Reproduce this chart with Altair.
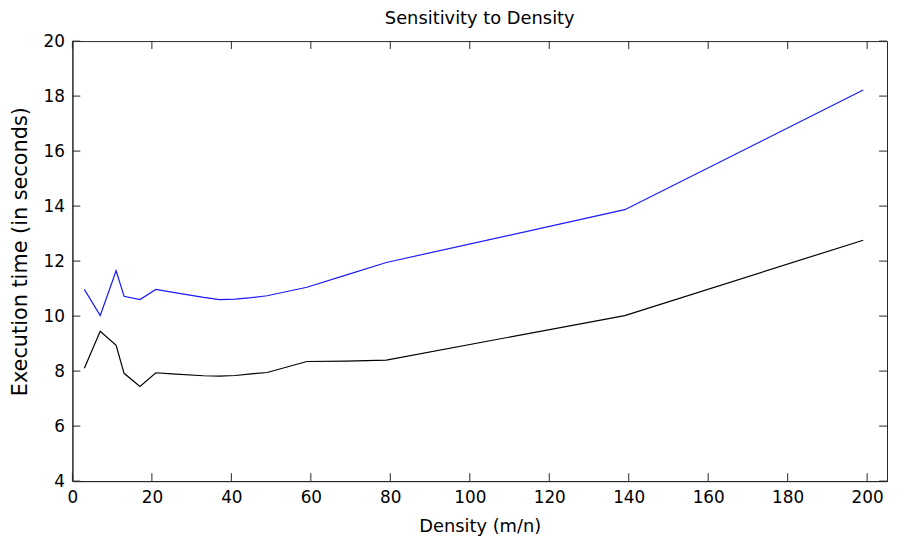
import altair as alt
import pandas as pd

# Data
density = [3, 7, 11, 13, 17, 21, 25, 33, 37, 41, 45, 49, 59, 69, 79, 139, 199]
blue_series = [10.97, 10.02, 11.65, 10.72, 10.60, 10.97, 10.87, 10.68, 10.60, 10.62,
               10.67, 10.74, 11.05, 11.50, 11.95, 13.87, 18.22]
black_series = [8.10, 9.45, 8.94, 7.92, 7.44, 7.94, 7.90, 7.83, 7.82, 7.84,
                7.90, 7.95, 8.35, 8.36, 8.40, 10.02, 12.76]
x_ticks = [0, 20, 40, 60, 80, 100, 120, 140, 160, 180, 200]
y_ticks = [4, 6, 8, 10, 12, 14, 16, 18, 20]

W, H = 822, 444
FONT = "DejaVu Sans"
AXC = "#262626"
TL = 8

rows = []
for d, b, k in zip(density, blue_series, black_series):
    rows.append({"x": d, "y": b, "series": "A"})
    rows.append({"x": d, "y": k, "series": "B"})
df = pd.DataFrame(rows)

xs = alt.Scale(domain=[0, 205], nice=False, zero=False)
ys = alt.Scale(domain=[4, 20], nice=False, zero=False)

xaxis = alt.Axis(values=x_ticks, grid=False, ticks=False, tickSize=0, labelPadding=9,
                 labelFontSize=17, labelFont=FONT, labelColor="black",
                 titleFontSize=18, titleFont=FONT, titleFontWeight="normal",
                 titleColor="black", titlePadding=12, domainColor=AXC, labelFlush=False)
yaxis = alt.Axis(values=y_ticks, grid=False, ticks=False, tickSize=0, labelPadding=8,
                 labelFontSize=17, labelFont=FONT, labelColor="black",
                 titleFontSize=21, titleFont=FONT, titleFontWeight="normal",
                 titleColor="black", titlePadding=13, titleY=H / 2 - 10,
                 domainColor=AXC, labelFlush=False)

lines = alt.Chart(df).mark_line(strokeWidth=1.2).encode(
    x=alt.X("x:Q", scale=xs, axis=xaxis, title="Density (m/n)"),
    y=alt.Y("y:Q", scale=ys, axis=yaxis, title="Execution time (in seconds)"),
    color=alt.Color("series:N", scale=alt.Scale(domain=["A", "B"], range=["#1a1aff", "#000000"]),
                    legend=None),
)

xt = pd.DataFrame({"x": x_ticks})
yt = pd.DataFrame({"y": y_ticks})

xb = alt.Chart(xt).mark_rule(color=AXC).encode(
    x=alt.X("x:Q", scale=xs), y=alt.value(H), y2=alt.value(H - TL))
xtop = alt.Chart(xt).mark_rule(color=AXC).encode(
    x=alt.X("x:Q", scale=xs), y=alt.value(0), y2=alt.value(TL))
yl = alt.Chart(yt).mark_rule(color=AXC).encode(
    y=alt.Y("y:Q", scale=ys), x=alt.value(0), x2=alt.value(TL))
yr = alt.Chart(yt).mark_rule(color=AXC).encode(
    y=alt.Y("y:Q", scale=ys), x=alt.value(W - TL), x2=alt.value(W))

chart = alt.layer(lines, xb, xtop, yl, yr).properties(
    width=W, height=H,
    title=alt.TitleParams("Sensitivity to Density", fontSize=18, font=FONT,
                          fontWeight="normal", color="black", offset=4),
    autosize=alt.AutoSizeParams(type="none"),
    padding={"left": 65, "top": 31, "right": 2, "bottom": 53},
).configure_view(stroke=AXC, strokeWidth=1)

chart.save("out.html", embed_options={"renderer": "svg", "actions": False})
